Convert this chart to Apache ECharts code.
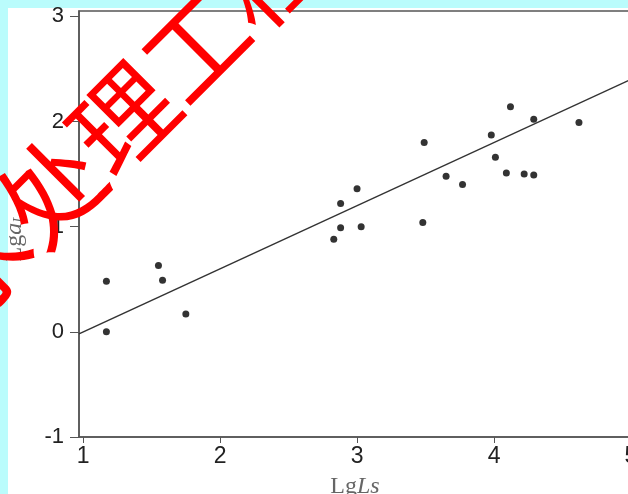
<!DOCTYPE html>
<html>
<head>
<meta charset="utf-8">
<script src="https://cdn.jsdelivr.net/npm/echarts@6/dist/echarts.min.js"></script>
<style>
  html, body { margin: 0; padding: 0; background: #bafcfc; }
  #chart { width: 628px; height: 494px; }
</style>
</head>
<body>
<div id="chart"></div>
<script>
// measured points (Lg Ls, Lg aL)
const lgLs = [1.17, 1.17, 1.55, 1.58, 1.75, 2.83, 2.88, 2.88, 3.00, 3.03, 3.48,
  3.49, 3.65, 3.77, 3.98, 4.01, 4.09, 4.12, 4.22, 4.29, 4.29, 4.62];
const lgAl = [0.48, 0.00, 0.63, 0.49, 0.17, 0.88, 1.22, 0.99, 1.36, 1.00, 1.04,
  1.80, 1.48, 1.40, 1.87, 1.66, 1.51, 2.14, 1.50, 1.49, 2.02, 1.99];

// fitted line end points
const fitX = [0.97, 5.0];
const fitY = [-0.02, 2.40];

const xTicks = [1, 2, 3, 4, 5];
const yTicks = [-1, 0, 1, 2, 3];

const axisColor = '#555';
const labelStyle = { color: '#222', fontFamily: '"Liberation Sans", Arial, sans-serif' };
const serif = '"Liberation Serif", serif';

const chart = echarts.init(document.getElementById('chart'));

chart.setOption({
  animation: false,
  backgroundColor: '#bafcfc',
  graphic: [
    {
      type: 'rect',
      shape: { x: 8, y: 8, width: 620, height: 486 },
      style: { fill: '#fff' },
      z: -10
    },
    {
      type: 'text',
      x: 123,
      y: 118,
      rotation: Math.PI / 4,
      z: 100,
      style: {
        text: '水处理工程',
        fontSize: 102,
        fontFamily: '"Noto Sans CJK SC"',
        fill: '#ff0000',
        align: 'center',
        verticalAlign: 'middle'
      }
    }
  ],
  grid: {
    left: 79, top: 11, width: 552, height: 426,
    outerBoundsMode: 'none',
    show: true, borderColor: axisColor, borderWidth: 1.5
  },
  xAxis: {
    type: 'value',
    min: 0.97,
    max: 5,
    axisLine: { show: true, onZero: false, lineStyle: { color: axisColor, width: 1.5 } },
    axisTick: { show: true, customValues: xTicks, length: 6, lineStyle: { color: axisColor } },
    axisLabel: { customValues: xTicks, margin: 8, fontSize: 23, ...labelStyle },
    splitLine: { show: false },
    name: '{n|Lg}{i|Ls}',
    nameLocation: 'middle',
    nameGap: 38,
    nameTextStyle: {
      rich: {
        n: { fontFamily: serif, fontSize: 24, color: '#666' },
        i: { fontFamily: serif, fontSize: 24, fontStyle: 'italic', color: '#666' }
      }
    }
  },
  yAxis: {
    type: 'value',
    min: -1,
    max: 3.05,
    axisLine: { show: true, onZero: false, lineStyle: { color: axisColor, width: 1.5 } },
    axisTick: { show: true, customValues: yTicks, length: 9, lineStyle: { color: axisColor } },
    axisLabel: { customValues: yTicks, margin: 15, fontSize: 22, ...labelStyle },
    splitLine: { show: false },
    name: '{n|Lg}{i|a}{s|L}',
    nameLocation: 'middle',
    nameGap: 52,
    nameTextStyle: {
      padding: [0, 28, 0, 0],
      rich: {
        n: { fontFamily: serif, fontSize: 24, color: '#666' },
        i: { fontFamily: serif, fontSize: 24, fontStyle: 'italic', color: '#666' },
        s: { fontFamily: serif, fontSize: 15, fontStyle: 'italic', color: '#666', verticalAlign: 'bottom' }
      }
    }
  },
  series: [
    {
      type: 'line',
      data: fitX.map((x, i) => [x, fitY[i]]),
      showSymbol: false,
      lineStyle: { color: '#333', width: 1.5 },
      z: 2
    },
    {
      type: 'scatter',
      data: lgLs.map((x, i) => [x, lgAl[i]]),
      symbolSize: 7,
      itemStyle: { color: '#000' },
      z: 3
    }
  ]
});
</script>
</body>
</html>
